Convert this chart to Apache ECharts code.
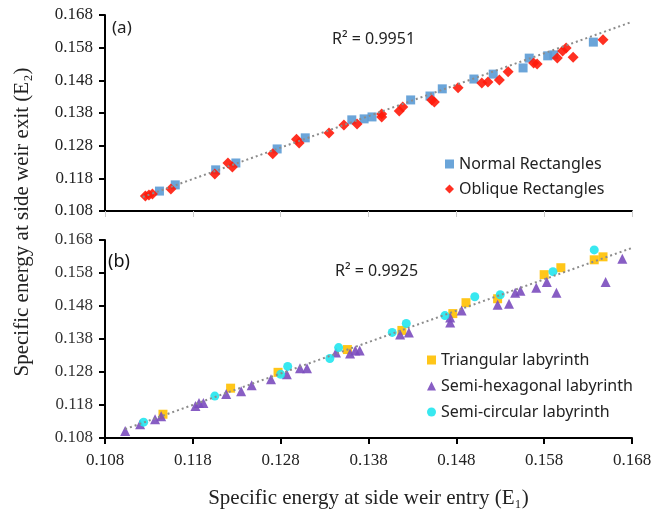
<!DOCTYPE html>
<html>
<head>
<meta charset="utf-8">
<title>Specific energy at side weir</title>
<script src="https://cdn.jsdelivr.net/npm/echarts@6/dist/echarts.min.js"></script>
<style>
  html, body { margin: 0; padding: 0; background: #fff; }
  #chart { width: 669px; height: 510px; }
</style>
</head>
<body>
<div id="chart"></div>
<script>
// axis ticks (E1 / E2)
var axisMin = 0.108
var axisMax = 0.168
var axisStep = 0.01

// panel (a)
var normalRect = [
  [0.1142, 0.1141], [0.1160, 0.1160], [0.1206, 0.1206], [0.1229, 0.1227],
  [0.1276, 0.1270], [0.1308, 0.1304], [0.1361, 0.1359], [0.1375, 0.1362],
  [0.1384, 0.1368], [0.1428, 0.1420], [0.1450, 0.1432], [0.1464, 0.1454],
  [0.1500, 0.1484], [0.1522, 0.1499], [0.1556, 0.1518], [0.1563, 0.1548],
  [0.1584, 0.1555], [0.1591, 0.1558], [0.1636, 0.1597]
]
var obliqueRect = [
  [0.1126, 0.1126], [0.1130, 0.1129], [0.1134, 0.1132], [0.1155, 0.1147],
  [0.1205, 0.1193], [0.1220, 0.1227], [0.1225, 0.1215], [0.1271, 0.1255],
  [0.1298, 0.1300], [0.1301, 0.1288], [0.1335, 0.1319], [0.1352, 0.1343],
  [0.1367, 0.1346], [0.1395, 0.1377], [0.1395, 0.1368], [0.1415, 0.1386],
  [0.1419, 0.1398], [0.1452, 0.1420], [0.1455, 0.1414], [0.1482, 0.1457],
  [0.1509, 0.1472], [0.1516, 0.1475], [0.1529, 0.1481], [0.1539, 0.1506],
  [0.1568, 0.1533], [0.1572, 0.1530], [0.1595, 0.1548], [0.1601, 0.1570],
  [0.1605, 0.1579], [0.1613, 0.1551], [0.1647, 0.1604]
]
var trendA = [[0.1123, 0.1123], [0.168, 0.1659]]

// panel (b)
var triangular = [
  [0.1146, 0.1152], [0.1223, 0.1231], [0.1277, 0.1279], [0.1356, 0.1348],
  [0.1418, 0.1406], [0.1476, 0.1457], [0.1491, 0.1490], [0.1527, 0.1502],
  [0.1580, 0.1575], [0.1599, 0.1596], [0.1637, 0.1620], [0.1647, 0.1629]
]
var semiHex = [
  [0.1103, 0.1101], [0.1120, 0.1122], [0.1137, 0.1137], [0.1144, 0.1146],
  [0.1183, 0.1177], [0.1187, 0.1186], [0.1192, 0.1186], [0.1218, 0.1213],
  [0.1235, 0.1222], [0.1247, 0.1240], [0.1269, 0.1258], [0.1287, 0.1273],
  [0.1302, 0.1291], [0.1310, 0.1291], [0.1343, 0.1339], [0.1359, 0.1336],
  [0.1365, 0.1345], [0.1370, 0.1345], [0.1416, 0.1394], [0.1426, 0.1400],
  [0.1473, 0.1430], [0.1473, 0.1445], [0.1486, 0.1466], [0.1527, 0.1484],
  [0.1540, 0.1487], [0.1547, 0.1520], [0.1553, 0.1526], [0.1571, 0.1535],
  [0.1583, 0.1553], [0.1594, 0.1520], [0.1650, 0.1553], [0.1669, 0.1623]
]
var semiCirc = [
  [0.1124, 0.1128], [0.1205, 0.1207], [0.1280, 0.1273], [0.1288, 0.1297],
  [0.1336, 0.1321], [0.1346, 0.1354], [0.1407, 0.1400], [0.1423, 0.1427],
  [0.1467, 0.1451], [0.1501, 0.1508], [0.1530, 0.1514], [0.1590, 0.1584],
  [0.1637, 0.1650]
]
var trendB = [[0.1103, 0.1107], [0.168, 0.1656]]

var chart = echarts.init(document.getElementById('chart'))

var serif = '"Liberation Serif", "DejaVu Serif", serif'
var sans = '"Noto Sans", "Open Sans", sans-serif'

function xAxisOf(idx, labels) {
  return {
    type: 'value',
    gridIndex: idx,
    min: axisMin,
    max: axisMax,
    interval: axisStep,
    splitLine: { show: false },
    axisLine: { lineStyle: { color: '#000', width: 2 } },
    axisTick: {
      show: true,
      length: 6,
      lineStyle: { color: labels ? '#000' : '#ccc', width: labels ? 2 : 1 }
    },
    axisLabel: {
      show: labels,
      margin: 14,
      color: '#222',
      fontFamily: serif,
      fontSize: 17,
      formatter: function (v) { return v.toFixed(3) }
    },
    name: labels ? 'Specific energy at side weir entry (E\u2081)' : '',
    nameLocation: 'middle',
    nameGap: 50,
    nameTextStyle: { color: '#222', fontFamily: serif, fontSize: 21 }
  }
}

function yAxisOf(idx) {
  return {
    type: 'value',
    gridIndex: idx,
    min: axisMin,
    max: axisMax,
    interval: axisStep,
    splitLine: { show: false },
    axisLine: { show: true, lineStyle: { color: '#000', width: 2 } },
    axisTick: { show: true, length: 6, lineStyle: { color: '#000', width: 2 } },
    axisLabel: {
      margin: 12,
      color: idx ? '#333' : '#222',
      fontFamily: serif,
      fontSize: 17,
      formatter: function (v) { return v.toFixed(3) }
    }
  }
}

function scatter(name, data, idx, symbol, size, color) {
  return {
    name: name,
    type: 'scatter',
    xAxisIndex: idx,
    yAxisIndex: idx,
    data: data,
    symbol: symbol,
    symbolSize: size,
    itemStyle: { color: color, opacity: 0.9 },
    z: 3
  }
}

function trend(data, idx) {
  return {
    type: 'line',
    xAxisIndex: idx,
    yAxisIndex: idx,
    data: data,
    symbol: 'none',
    silent: true,
    lineStyle: { color: '#8c8c8c', width: 2, type: [2, 3] },
    z: 4
  }
}

var legendText = { color: '#222', fontFamily: sans, fontSize: 16, lineHeight: 18 }

chart.setOption({
  backgroundColor: '#fff',
  animation: false,
  grid: [
    { left: 105, top: 15, width: 527, height: 196 },
    { left: 105, top: 240, width: 527, height: 199 }
  ],
  xAxis: [xAxisOf(0, false), xAxisOf(1, true)],
  yAxis: [yAxisOf(0), yAxisOf(1)],
  legend: [
    {
      data: ['Normal Rectangles', 'Oblique Rectangles'],
      orient: 'vertical',
      left: 440, top: 150,
      itemWidth: 9, itemHeight: 9, itemGap: 7,
      textStyle: legendText
    },
    {
      data: ['Triangular labyrinth', 'Semi-hexagonal labyrinth', 'Semi-circular labyrinth'],
      orient: 'vertical',
      left: 422, top: 346,
      itemWidth: 9, itemHeight: 9, itemGap: 8,
      textStyle: legendText
    }
  ],
  graphic: [
    { type: 'text', left: 112, top: 20, style: { text: '(a)', font: '17px ' + sans, fill: '#222' } },
    { type: 'text', left: 108, top: 253, style: { text: '(b)', font: '18px ' + sans, fill: '#111' } },
    { type: 'text', left: 332, top: 31, style: { text: 'R\u00b2 = 0.9951', font: '16px ' + sans, fill: '#222' } },
    { type: 'text', left: 335, top: 263, style: { text: 'R\u00b2 = 0.9925', font: '16px ' + sans, fill: '#222' } },
    {
      type: 'text', x: 22, y: 222, rotation: Math.PI / 2,
      style: {
        text: 'Specific energy at side weir exit (E\u2082)',
        font: '21px ' + serif, fill: '#222',
        align: 'center', verticalAlign: 'middle'
      }
    }
  ],
  series: [
    trend(trendA, 0),
    scatter('Normal Rectangles', normalRect, 0, 'rect', 9, '#5b9bd5'),
    scatter('Oblique Rectangles', obliqueRect, 0, 'diamond', 11, '#ff1a0a'),
    trend(trendB, 1),
    scatter('Triangular labyrinth', triangular, 1, 'rect', 9, '#ffc000'),
    scatter('Semi-hexagonal labyrinth', semiHex, 1, 'triangle', 10, '#7b4dbe'),
    scatter('Semi-circular labyrinth', semiCirc, 1, 'circle', 9, '#22e6ee')
  ]
})
</script>
</body>
</html>
